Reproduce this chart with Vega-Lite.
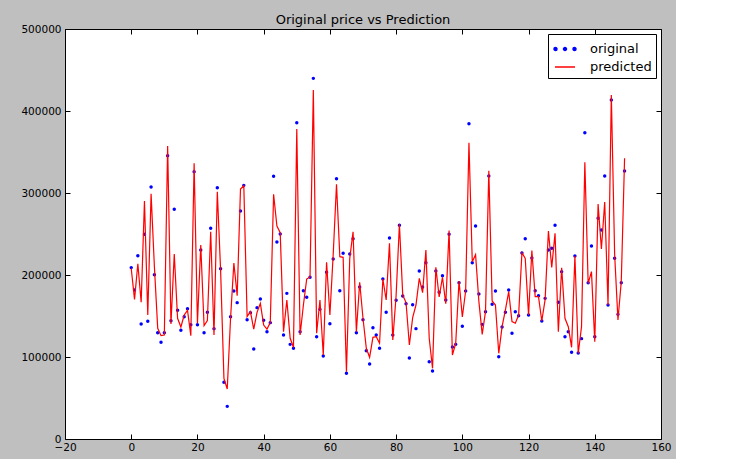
{
  "$schema": "https://vega.github.io/schema/vega-lite/v6.json",
  "width": 596,
  "height": 410,
  "autosize": {"type": "none"},
  "padding": {"left": 65, "top": 29, "right": 15, "bottom": 20},
  "background": "#bfbfbf",
  "title": {"text": "Original price vs Prediction", "fontSize": 13, "font": "DejaVu Sans", "fontWeight": "normal", "color": "black", "offset": -3},
  "config": {
    "view": {"fill": "white", "stroke": "black", "strokeWidth": 1},
    "font": "DejaVu Sans",
    "axis": {"domain": false, "grid": false, "labelFont": "DejaVu Sans", "labelFontSize": 10.5, "labelColor": "black", "tickColor": "black", "tickSize": -5, "labelFlush": false, "labelOverlap": false, "title": null}
  },
  "data": {"values": [
    {"i":0,"original":209000,"predicted":208000},
    {"i":1,"original":181700,"predicted":170300},
    {"i":2,"original":223600,"predicted":213800},
    {"i":3,"original":140200,"predicted":166700},
    {"i":4,"original":249600,"predicted":290200},
    {"i":5,"original":143500,"predicted":151200},
    {"i":6,"original":307300,"predicted":299200},
    {"i":7,"original":200400,"predicted":210000},
    {"i":8,"original":129700,"predicted":135000},
    {"i":9,"original":117900,"predicted":126000},
    {"i":10,"original":129700,"predicted":126800},
    {"i":11,"original":345500,"predicted":357300},
    {"i":12,"original":144300,"predicted":140200},
    {"i":13,"original":280100,"predicted":225600},
    {"i":14,"original":156900,"predicted":147200},
    {"i":15,"original":132500,"predicted":136600},
    {"i":16,"original":149200,"predicted":151200},
    {"i":17,"original":158900,"predicted":156900},
    {"i":18,"original":139400,"predicted":126000},
    {"i":19,"original":326000,"predicted":336200},
    {"i":20,"original":139400,"predicted":141100},
    {"i":21,"original":230500,"predicted":236600},
    {"i":22,"original":129700,"predicted":138200},
    {"i":23,"original":154500,"predicted":144300},
    {"i":24,"original":256900,"predicted":252800},
    {"i":25,"original":134600,"predicted":126800},
    {"i":26,"original":306500,"predicted":301600},
    {"i":27,"original":207700,"predicted":205000},
    {"i":28,"original":69100,"predicted":74000},
    {"i":29,"original":39800,"predicted":61000},
    {"i":30,"original":149200,"predicted":147200},
    {"i":31,"original":180500,"predicted":214600},
    {"i":32,"original":166300,"predicted":174800},
    {"i":33,"original":278000,"predicted":304900},
    {"i":34,"original":309300,"predicted":308900},
    {"i":35,"original":145500,"predicted":149200},
    {"i":36,"original":154100,"predicted":155300},
    {"i":37,"original":109800,"predicted":134000},
    {"i":38,"original":160200,"predicted":154500},
    {"i":39,"original":170700,"predicted":165400},
    {"i":40,"original":144700,"predicted":139000},
    {"i":41,"original":130900,"predicted":134000},
    {"i":42,"original":141900,"predicted":141900},
    {"i":43,"original":320300,"predicted":298400},
    {"i":44,"original":240200,"predicted":259800},
    {"i":45,"original":250000,"predicted":251600},
    {"i":46,"original":126800,"predicted":130900},
    {"i":47,"original":177600,"predicted":169500},
    {"i":48,"original":115400,"predicted":122800},
    {"i":49,"original":110600,"predicted":111800},
    {"i":50,"original":385800,"predicted":378000},
    {"i":51,"original":130900,"predicted":126800},
    {"i":52,"original":180900,"predicted":163400},
    {"i":53,"original":172800,"predicted":195100},
    {"i":54,"original":197200,"predicted":197600},
    {"i":55,"original":439800,"predicted":425600},
    {"i":56,"original":124800,"predicted":128900},
    {"i":57,"original":158100,"predicted":169500},
    {"i":58,"original":101200,"predicted":102400},
    {"i":59,"original":203300,"predicted":215400},
    {"i":60,"original":140600,"predicted":151200},
    {"i":61,"original":219500,"predicted":225000},
    {"i":62,"original":317500,"predicted":310600},
    {"i":63,"original":180900,"predicted":222400},
    {"i":64,"original":226400,"predicted":221600},
    {"i":65,"original":80100,"predicted":82100},
    {"i":66,"original":225600,"predicted":220300},
    {"i":67,"original":244300,"predicted":252800},
    {"i":68,"original":129700,"predicted":130900},
    {"i":69,"original":185400,"predicted":191100},
    {"i":70,"original":145500,"predicted":147200},
    {"i":71,"original":107700,"predicted":110600},
    {"i":72,"original":91500,"predicted":99600},
    {"i":73,"original":135800,"predicted":124000},
    {"i":74,"original":126800,"predicted":124800},
    {"i":75,"original":110600,"predicted":116700},
    {"i":76,"original":195100,"predicted":195100},
    {"i":77,"original":154500,"predicted":169500},
    {"i":78,"original":245100,"predicted":238600},
    {"i":79,"original":126800,"predicted":120700},
    {"i":80,"original":169100,"predicted":175000},
    {"i":81,"original":260600,"predicted":261800},
    {"i":82,"original":174400,"predicted":175600},
    {"i":83,"original":165000,"predicted":166300},
    {"i":84,"original":98800,"predicted":114600},
    {"i":85,"original":163800,"predicted":148000},
    {"i":86,"original":134600,"predicted":163400},
    {"i":87,"original":204900,"predicted":195900},
    {"i":88,"original":185400,"predicted":178500},
    {"i":89,"original":215000,"predicted":230500},
    {"i":90,"original":94300,"predicted":122800},
    {"i":91,"original":82900,"predicted":86200},
    {"i":92,"original":204900,"predicted":209300},
    {"i":93,"original":178900,"predicted":173200},
    {"i":94,"original":199200,"predicted":197200},
    {"i":95,"original":169500,"predicted":165000},
    {"i":96,"original":249600,"predicted":254100},
    {"i":97,"original":112200,"predicted":102400},
    {"i":98,"original":115400,"predicted":116700},
    {"i":99,"original":190600,"predicted":192700},
    {"i":100,"original":137400,"predicted":148800},
    {"i":101,"original":180500,"predicted":180500},
    {"i":102,"original":384500,"predicted":361400},
    {"i":103,"original":215000,"predicted":216300},
    {"i":104,"original":259800,"predicted":224800},
    {"i":105,"original":176800,"predicted":167500},
    {"i":106,"original":139800,"predicted":127600},
    {"i":107,"original":155300,"predicted":155300},
    {"i":108,"original":320700,"predicted":327200},
    {"i":109,"original":164200,"predicted":168300},
    {"i":110,"original":180500,"predicted":163400},
    {"i":111,"original":100400,"predicted":104500},
    {"i":112,"original":136600,"predicted":137000},
    {"i":113,"original":154500,"predicted":157300},
    {"i":114,"original":181700,"predicted":179700},
    {"i":115,"original":128900,"predicted":143100},
    {"i":116,"original":155300,"predicted":141100},
    {"i":117,"original":150400,"predicted":151200},
    {"i":118,"original":226800,"predicted":227200},
    {"i":119,"original":244300,"predicted":220300},
    {"i":120,"original":151200,"predicted":151200},
    {"i":121,"original":220700,"predicted":229700},
    {"i":122,"original":180900,"predicted":173600},
    {"i":123,"original":174800,"predicted":173600},
    {"i":124,"original":143900,"predicted":143900},
    {"i":125,"original":171500,"predicted":170000},
    {"i":126,"original":230500,"predicted":253700},
    {"i":127,"original":232500,"predicted":209300},
    {"i":128,"original":260600,"predicted":250800},
    {"i":129,"original":166700,"predicted":130900},
    {"i":130,"original":204100,"predicted":208900},
    {"i":131,"original":124800,"predicted":147200},
    {"i":132,"original":130900,"predicted":137000},
    {"i":133,"original":105700,"predicted":111800},
    {"i":134,"original":223200,"predicted":223200},
    {"i":135,"original":105000,"predicted":104500},
    {"i":136,"original":122400,"predicted":137000},
    {"i":137,"original":373600,"predicted":337400},
    {"i":138,"original":190600,"predicted":189800},
    {"i":139,"original":235400,"predicted":204100},
    {"i":140,"original":124800,"predicted":118700},
    {"i":141,"original":269100,"predicted":286600},
    {"i":142,"original":254900,"predicted":231700},
    {"i":143,"original":320700,"predicted":289000},
    {"i":144,"original":163400,"predicted":163400},
    {"i":145,"original":413400,"predicted":419500},
    {"i":146,"original":220300,"predicted":225000},
    {"i":147,"original":152000,"predicted":145100},
    {"i":148,"original":190600,"predicted":191900},
    {"i":149,"original":326800,"predicted":342300}
  ]},
  "transform": [{"fold": ["original", "predicted"], "as": ["series", "price"]}],
  "encoding": {
    "color": {
      "field": "series", "type": "nominal",
      "scale": {"domain": ["original", "predicted"], "range": ["#0000ff", "#ff0000"]},
      "legend": {
        "orient": "top-right", "offset": 5, "title": null, "padding": 4,
        "fillColor": "white", "strokeColor": "black", "cornerRadius": 0,
        "labelFontSize": 13, "labelFont": "DejaVu Sans", "labelColor": "black",
        "symbolSize": 400, "labelOffset": 14, "symbolOffset": 2, "rowPadding": 0,
        "encode": {"symbols": {"update": {
          "shape": {"signal": "datum.value === 'original' ? 'M-1.1,0a0.15,0.15 0 1,0 0.3,0a0.15,0.15 0 1,0 -0.3,0M-0.15,0a0.15,0.15 0 1,0 0.3,0a0.15,0.15 0 1,0 -0.3,0M0.8,0a0.15,0.15 0 1,0 0.3,0a0.15,0.15 0 1,0 -0.3,0' : 'stroke'"},
          "fill": {"signal": "datum.value === 'original' ? '#0000ff' : 'transparent'"},
          "stroke": {"signal": "datum.value === 'original' ? 'transparent' : '#ff0000'"}
        }}}
      }
    }
  },
  "layer": [
    {
      "transform": [{"filter": "datum.series === 'original'"}],
      "mark": {"type": "circle", "size": 12, "opacity": 1},
      "encoding": {
        "x": {"field": "i", "type": "quantitative", "scale": {"domain": [-20, 160], "nice": false, "zero": false},
              "axis": {"orient": "bottom", "values": [-20, 0, 20, 40, 60, 80, 100, 120, 140, 160], "labelPadding": 8}},
        "y": {"field": "price", "type": "quantitative", "scale": {"domain": [0, 500000], "nice": false},
              "axis": {"orient": "left", "values": [0, 100000, 200000, 300000, 400000, 500000], "format": "d", "labelPadding": 9}}
      }
    },
    {
      "transform": [{"filter": "datum.series === 'predicted'"}],
      "mark": {"type": "line", "strokeWidth": 1.2},
      "encoding": {
        "x": {"field": "i", "type": "quantitative", "axis": null},
        "y": {"field": "price", "type": "quantitative", "axis": null}
      }
    },
    {
      "transform": [{"filter": "datum.series === 'original'"}],
      "mark": {"type": "point", "opacity": 0},
      "encoding": {
        "x": {"field": "i", "type": "quantitative",
              "axis": {"orient": "top", "values": [-20, 0, 20, 40, 60, 80, 100, 120, 140, 160], "labels": false}},
        "y": {"field": "price", "type": "quantitative",
              "axis": {"orient": "right", "values": [0, 100000, 200000, 300000, 400000, 500000], "labels": false}}
      }
    }
  ],
  "resolve": {"axis": {"x": "independent", "y": "independent"}}
}
